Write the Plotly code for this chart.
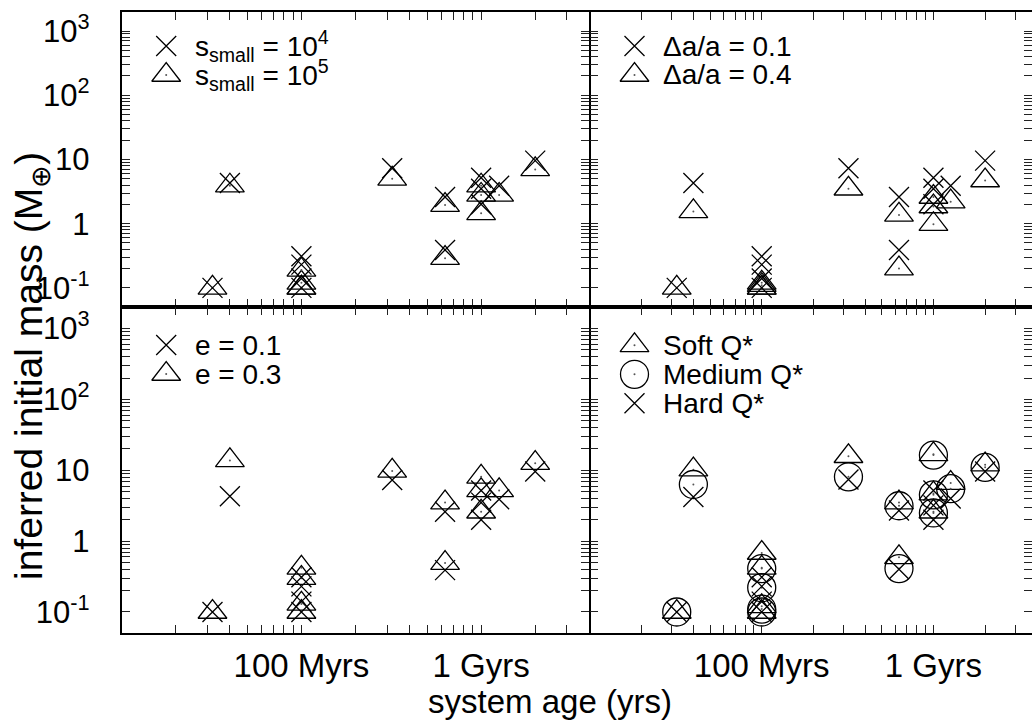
import plotly.graph_objects as go

W, H = 1032, 727
FONT = "Liberation Sans, Arial, Helvetica, sans-serif"

# ---------------- data ----------------
ages_yr = [3.2e7, 4.0e7, 1.0e8, 1.0e8, 1.0e8, 1.0e8, 3.2e8,
           6.3e8, 6.3e8, 1.0e9, 1.0e9, 1.0e9, 1.26e9, 2.0e9]

mass_fiducial = [0.10, 4.3, 0.31, 0.23, 0.14, 0.10, 7.3,
                 2.6, 0.39, 5.2, 3.5, 2.0, 3.9, 9.6]
mass_ssmall_1e5 = [0.10, 3.9, 0.19, 0.12, 0.10, 0.10, 5.0,
                   1.95, 0.29, 3.9, 2.8, 1.45, 2.8, 7.0]
mass_da_04 = [0.10, 1.55, 0.12, 0.11, 0.10, 0.10, 3.5,
              1.37, 0.20, 2.6, 1.85, 0.98, 2.2, 4.7]
mass_e_03 = [0.10, 13.8, 0.42, 0.30, 0.13, 0.10, 9.8,
             3.5, 0.49, 8.1, 5.2, 2.6, 5.2, 12.6]
mass_soft = [0.10, 10.2, 0.68, 0.42, 0.12, 0.10, 15.8,
             3.5, 0.59, 16.8, 4.7, 2.6, 6.6, 12.0]
mass_medium = [0.10, 6.3, 0.41, 0.22, 0.11, 0.10, 8.1,
               3.16, 0.41, 16.4, 4.5, 2.5, 5.5, 11.0]
mass_hard = [0.10, 4.2, 0.31, 0.23, 0.14, 0.10, 7.4,
             2.7, 0.40, 5.2, 3.2, 2.0, 4.0, 9.6]

x_tick_vals = [1e8, 1e9]
x_tick_text = ["100 Myrs", "1 Gyrs"]
y_tick_vals = [1e3, 1e2, 1e1, 1e0, 1e-1]
y_tick_text = ["10<sup>3</sup>", "10<sup>2</sup>", "10", "1", "10<sup>-1</sup>"]

# ---------------- layout geometry (pixels) ----------------
PX_L = (121.7, 589.3)
PX_R = (590.0, 1032.0)
PY_T = (11.7, 307.2)
PY_B = (307.3, 633.3)
X_RANGE_L = [7.0, 9.602]
X_RANGE_R = [7.0, 9.574]
Y_RANGE = [-1.301, 3.301]

def xdom(p):
    return [p[0] / W, p[1] / W]

def ydom(p):
    return [1 - p[1] / H, 1 - p[0] / H]

# minor ticks: every 1..9 x 10^n inside the frame
x_minor = [k * 10 ** n for n in (7, 8, 9) for k in range(1, 10)
           if k * 10 ** n <= 3.1e9 and k * 10 ** n not in x_tick_vals]
y_minor = [round(k * 10.0 ** n, 6) for n in (-1, 0, 1, 2) for k in range(2, 10)]

fig = go.Figure()

SYM_X = dict(symbol="x-thin-open", size=20, color="black", line=dict(width=1.3, color="black"))
SYM_T = dict(symbol="triangle-up-open", size=25, color="black", line=dict(width=1.3, color="black"))
SYM_C = dict(symbol="circle-open", size=28, color="black", line=dict(width=1.3, color="black"))
SYM_DOT = dict(symbol="circle", size=2, color="#555555", line=dict(width=0))

panels = [
    ("", [(mass_ssmall_1e5, SYM_T), (mass_fiducial, SYM_X)]),
    ("2", [(mass_da_04, SYM_T), (mass_fiducial, SYM_X)]),
    ("3", [(mass_e_03, SYM_T), (mass_fiducial, SYM_X)]),
    ("4", [(mass_soft, SYM_T), (mass_medium, SYM_C), (mass_hard, SYM_X)]),
]

for suf, series in panels:
    for masses, sym in series:
        fig.add_trace(go.Scatter(x=ages_yr, y=masses, mode="markers", marker=sym,
                                 xaxis="x" + suf, yaxis="y" + suf, showlegend=False,
                                 hoverinfo="skip"))
        if sym is not SYM_X:
            fig.add_trace(go.Scatter(x=ages_yr, y=masses, mode="markers", marker=SYM_DOT,
                                     xaxis="x" + suf, yaxis="y" + suf, showlegend=False,
                                     hoverinfo="skip"))

# ---------------- legends (inside each panel) ----------------
legends = [
    ("5", PX_L, PY_T, 34.3, [(SYM_X, "s<sub>small</sub> = 10<sup>4</sup>"),
                             (SYM_T, "s<sub>small</sub> = 10<sup>5</sup>")]),
    ("6", PX_R, PY_T, 34.3, [(SYM_X, "\u0394a/a = 0.1"), (SYM_T, "\u0394a/a = 0.4")]),
    ("7", PX_L, PY_B, 37.7, [(SYM_X, "e = 0.1"), (SYM_T, "e = 0.3")]),
    ("8", PX_R, PY_B, 38.0, [(SYM_T, "Soft Q*"), (SYM_C, "Medium Q*"), (SYM_X, "Hard Q*")]),
]
LEG_SYM_DX = 44.5
LEG_TXT_DX = 71.0
LEG_DY = 29.0

annotations = []
for suf, px, py, y0, entries in legends:
    pw = px[1] - px[0]
    ph = py[1] - py[0]
    for i, (sym, label) in enumerate(entries):
        yy = y0 + i * LEG_DY
        fig.add_trace(go.Scatter(x=[LEG_SYM_DX / pw], y=[1 - yy / ph], mode="markers",
                                 marker=sym, xaxis="x" + suf, yaxis="y" + suf,
                                 showlegend=False, hoverinfo="skip"))
        if sym is not SYM_X:
            fig.add_trace(go.Scatter(x=[LEG_SYM_DX / pw], y=[1 - yy / ph], mode="markers",
                                     marker=SYM_DOT, xaxis="x" + suf, yaxis="y" + suf,
                                     showlegend=False, hoverinfo="skip"))
        annotations.append(dict(text=label, xref="paper", yref="paper",
                                x=(px[0] + LEG_TXT_DX) / W, y=1 - (py[0] + yy) / H,
                                xanchor="left", yanchor="middle", showarrow=False,
                                font=dict(size=28, color="black", family=FONT)))

annotations.append(dict(text="system age (yrs)", xref="paper", yref="paper",
                        x=550 / W, y=1 - 701 / H, xanchor="center", yanchor="middle",
                        showarrow=False, font=dict(size=33, color="black", family=FONT)))
annotations.append(dict(text="inferred initial mass (M<sub>\u2295</sub>)", xref="paper", yref="paper",
                        x=31 / W, y=1 - 366 / H, xanchor="center", yanchor="middle",
                        textangle=-90, showarrow=False,
                        font=dict(size=39, color="black", family=FONT)))

TICK = dict(ticks="inside", ticklen=8, tickwidth=1, tickcolor="#222222")

def xaxis(px, rng, labels, anchor):
    return dict(type="log", domain=xdom(px), range=rng, anchor=anchor,
                tickmode="array", tickvals=x_tick_vals, ticktext=x_tick_text,
                minor=dict(tickmode="array", tickvals=x_minor, showgrid=False, **TICK),
                showticklabels=labels, showline=True, linewidth=2, linecolor="black",
                mirror="ticks", showgrid=False, zeroline=False,
                ticklabelstandoff=2,
                tickfont=dict(size=33, color="black", family=FONT), **TICK)

def yaxis(py, labels, anchor, line=True):
    return dict(type="log", domain=ydom(py), range=Y_RANGE, anchor=anchor,
                tickmode="array", tickvals=y_tick_vals, ticktext=y_tick_text,
                minor=dict(tickmode="array", tickvals=y_minor, showgrid=False, **TICK),
                showticklabels=labels, showline=line, linewidth=2, linecolor="black",
                mirror="ticks", showgrid=False, zeroline=False,
                ticklabelstandoff=24,
                tickfont=dict(size=31, color="black", family=FONT), **TICK)

def hidden(dom, anchor):
    return dict(domain=dom, range=[0, 1], visible=False, fixedrange=True, anchor=anchor)

fig.update_layout(
    width=W, height=H,
    margin=dict(l=0, r=0, t=0, b=0, autoexpand=False),
    paper_bgcolor="white", plot_bgcolor="rgba(0,0,0,0)",
    showlegend=False,
    xaxis=xaxis(PX_L, X_RANGE_L, False, "y"),
    yaxis=yaxis(PY_T, True, "x"),
    xaxis2=xaxis(PX_R, X_RANGE_R, False, "y2"),
    yaxis2=yaxis(PY_T, False, "x2", line=False),
    xaxis3=xaxis(PX_L, X_RANGE_L, True, "y3"),
    yaxis3=yaxis(PY_B, True, "x3"),
    xaxis4=xaxis(PX_R, X_RANGE_R, True, "y4"),
    yaxis4=yaxis(PY_B, False, "x4", line=False),
    xaxis5=hidden(xdom(PX_L), "y5"), yaxis5=hidden(ydom(PY_T), "x5"),
    xaxis6=hidden(xdom(PX_R), "y6"), yaxis6=hidden(ydom(PY_T), "x6"),
    xaxis7=hidden(xdom(PX_L), "y7"), yaxis7=hidden(ydom(PY_B), "x7"),
    xaxis8=hidden(xdom(PX_R), "y8"), yaxis8=hidden(ydom(PY_B), "x8"),
    annotations=annotations,
    font=dict(family=FONT, color="black"),
)

fig.write_html("out.html", config={"displayModeBar": False},
               post_script="document.body.style.margin='0';")
